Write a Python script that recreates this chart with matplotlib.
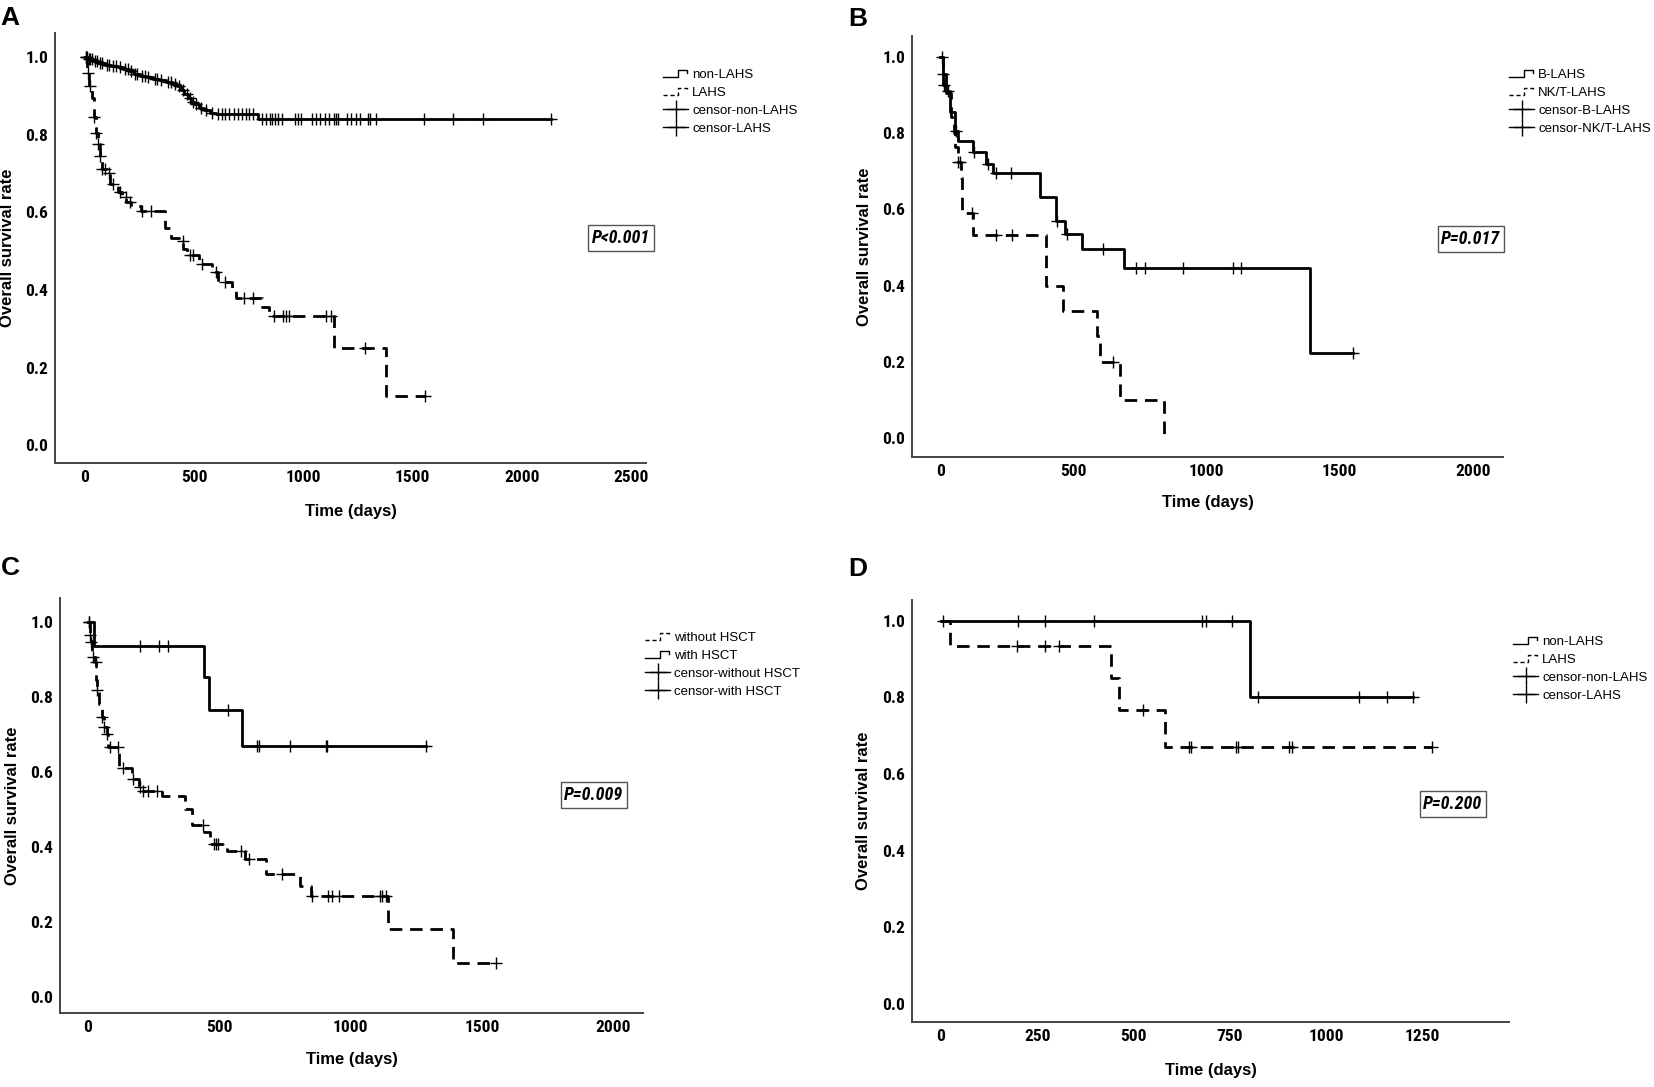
import numpy as np
import matplotlib
matplotlib.use('Agg')
import matplotlib.pyplot as plt
from matplotlib.lines import Line2D
from matplotlib import font_manager
from matplotlib.font_manager import FontProperties

# ---- panel A: non-LAHS vs LAHS ----
a_non_times = [15, 35, 60, 90, 120, 150, 175, 200, 225, 250, 280, 310, 340, 370, 400, 420,
               440, 455, 470, 485, 500, 520, 545, 570, 600, 790]
a_non_surv = [0.995, 0.99, 0.985, 0.98, 0.978, 0.975, 0.97, 0.963, 0.957, 0.952, 0.948, 0.944,
              0.94, 0.935, 0.93, 0.925, 0.915, 0.905, 0.895, 0.885, 0.878, 0.87, 0.863, 0.857,
              0.852, 0.84]
a_non_censor = [5, 10, 18, 25, 30, 45, 55, 70, 80, 100, 110, 130, 140, 160, 185, 195, 210, 230,
                240, 260, 275, 290, 320, 330, 350, 380, 395, 410, 430, 450, 465, 480, 495, 510,
                530, 555, 580, 610, 625, 640, 660, 680, 700, 720, 735, 750, 770, 810, 830, 845,
                855, 870, 885, 900, 960, 975, 990, 1040, 1055, 1075, 1100, 1115, 1140, 1150,
                1160, 1200, 1215, 1240, 1260, 1295, 1305, 1330, 1552, 1686, 1822, 2132]
a_lahs_times = [10, 20, 30, 40, 50, 60, 70, 78, 100, 115, 150, 170, 190, 210, 255, 366, 394,
                431, 450, 468, 524, 580, 608, 673, 691, 812, 840, 1138, 1379]
a_lahs_surv = [0.96, 0.925, 0.895, 0.845, 0.805, 0.775, 0.745, 0.712, 0.70, 0.672, 0.652, 0.64,
               0.627, 0.617, 0.603, 0.56, 0.535, 0.525, 0.505, 0.49, 0.466, 0.445, 0.42, 0.40,
               0.38, 0.355, 0.332, 0.25, 0.127]
a_lahs_censor = [3, 12, 22, 40, 52, 62, 70, 80, 92, 110, 128, 160, 188, 205, 262, 300, 448, 480,
                 495, 535, 600, 640, 730, 770, 865, 905, 920, 935, 1105, 1125, 1280, 1556]

# ---- panel B: B-LAHS vs NK/T-LAHS ----
b_b_times = [8, 20, 35, 55, 66, 123, 172, 199, 373, 434, 469, 532, 688, 1388]
b_b_surv = [0.955, 0.91, 0.855, 0.805, 0.78, 0.75, 0.72, 0.695, 0.633, 0.57, 0.535, 0.495,
            0.446, 0.223]
b_b_censor = [8, 29, 59, 127, 178, 209, 266, 438, 475, 610, 735, 768, 911, 1099, 1130, 1550]
b_nk_times = [8, 20, 41, 51, 55, 66, 76, 80, 123, 397, 461, 587, 600, 673, 839]
b_nk_surv = [0.926, 0.905, 0.843, 0.80, 0.764, 0.725, 0.681, 0.59, 0.533, 0.40, 0.333, 0.267,
             0.20, 0.10, 0.0]
b_nk_censor = [5, 12, 66, 72, 117, 209, 270, 649]

# ---- panel C: with / without HSCT ----
c_wo_times = [9, 12, 17, 28, 33, 37, 43, 56, 64, 75, 79, 118, 121, 168, 196, 203, 281, 370,
              398, 444, 467, 530, 600, 677, 809, 848, 1143, 1388]
c_wo_surv = [0.964, 0.947, 0.907, 0.893, 0.844, 0.818, 0.782, 0.747, 0.72, 0.702, 0.667, 0.649,
             0.61, 0.582, 0.56, 0.55, 0.535, 0.5, 0.458, 0.44, 0.409, 0.39, 0.367, 0.327, 0.297,
             0.27, 0.18, 0.09]
c_wo_censor = [6, 10, 14, 20, 30, 37, 56, 64, 75, 85, 115, 135, 172, 198, 210, 228, 262, 440,
               480, 488, 497, 584, 612, 739, 855, 915, 930, 955, 1110, 1120, 1135, 1554]
c_with_times = [25, 441, 463, 587]
c_with_surv = [0.935, 0.853, 0.765, 0.67]
c_with_censor = [6, 199, 273, 307, 534, 646, 651, 770, 905, 910, 1287]

# ---- panel D: non-LAHS vs LAHS (HSCT) ----
d_non_times = [801]
d_non_surv = [0.80]
d_non_censor = [5, 200, 271, 398, 678, 688, 756, 822, 1086, 1157, 1224]
d_lahs_times = [24, 441, 462, 582]
d_lahs_surv = [0.935, 0.85, 0.767, 0.67]
d_lahs_censor = [198, 271, 306, 525, 645, 650, 766, 772, 904, 911, 1274]

y_ticks = [0.0, 0.2, 0.4, 0.6, 0.8, 1.0]

BOLD = ['Liberation Sans', 'DejaVu Sans']


def condensed_font(italic=False):
    # look for a narrow/condensed bold sans face; SPSS ticks use Arial Narrow
    pref = ['liberation sans narrow', 'roboto condensed', 'noto sans', 'open sans']
    found = {}
    for f in font_manager.fontManager.ttflist:
        key = (f.name + ' ' + f.fname).lower()
        if 'narrow' not in key and 'condensed' not in key and f.stretch not in (
                'condensed', 'semi-condensed'):
            continue
        if 'semicondensed' in key.replace('-', '') or 'extracondensed' in key.replace('-', ''):
            continue
        w = f.weight if isinstance(f.weight, int) else {'bold': 700}.get(f.weight, 400)
        if w != 700 or (f.style != 'normal') != italic:
            continue
        for i, p in enumerate(pref):
            if key.startswith(p) or p in key:
                found.setdefault(i, f.fname)
                break
    if found:
        return found[min(found)]
    return None


cond_path = condensed_font()
cond_it_path = condensed_font(italic=True)


def tick_font(size):
    if cond_path:
        return FontProperties(fname=cond_path, size=size)
    return FontProperties(family='Liberation Sans', weight='bold', size=size - 2)


def p_font(size):
    if cond_it_path:
        return FontProperties(fname=cond_it_path, size=size)
    return FontProperties(family='Liberation Sans', weight='bold', style='italic', size=size - 1)


class StepHandler:
    def __init__(self, ls):
        self.ls = ls

    def legend_artist(self, legend, orig_handle, fontsize, handlebox):
        x0, y0 = handlebox.xdescent, handlebox.ydescent
        w, h = handlebox.width, handlebox.height
        xs = [x0, x0 + 0.58 * w, x0 + 0.58 * w, x0 + 0.97 * w, x0 + 0.97 * w]
        ys = [y0 + 0.15 * h, y0 + 0.15 * h, y0 + 0.85 * h, y0 + 0.85 * h, y0 + 0.55 * h]
        line = Line2D(xs, ys, color='black', lw=1.0, linestyle=self.ls)
        line.set_transform(handlebox.get_transform())
        handlebox.add_artist(line)
        return line


def km_path(times, surv, t_end):
    x = np.concatenate([[0], times, [max(t_end, times[-1])]])
    y = np.concatenate([[1.0], surv, [surv[-1]]])
    return x, y


def surv_at(times, surv, t):
    levels = np.concatenate([[1.0], surv])
    return levels[np.searchsorted(times, t, side='right')]


def draw_curve(ax, times, surv, censor, dashed):
    x, y = km_path(times, surv, max(censor))
    kw = dict(color='black', lw=2.0)
    if dashed:
        kw['dashes'] = (4.5, 2.8)
    ax.step(x, y, where='post', **kw)
    cy = [surv_at(times, surv, t) for t in censor]
    ax.plot(censor, cy, ls='none', marker='+', ms=9, mew=1.0, color='black')


fig = plt.figure(figsize=(16.54, 10.87), dpi=100)
W, H = 1654, 1087


def make_axes(l, r, b, t):
    return fig.add_axes([l / W, 1 - b / H, (r - l) / W, (b - t) / H])


def style_axes(ax, xlim, ylim, xticks, xlab_y):
    ax.set_xlim(*xlim)
    ax.set_ylim(*ylim)
    ax.set_xticks(xticks)
    ax.set_yticks(y_ticks)
    ax.set_yticklabels([f'{v:.1f}' for v in y_ticks])
    for s in ['top', 'right']:
        ax.spines[s].set_visible(False)
    for s in ['left', 'bottom']:
        ax.spines[s].set_color('#444444')
        ax.spines[s].set_linewidth(1.4)
    ax.tick_params(length=0, pad=5)
    for lab in ax.get_xticklabels() + ax.get_yticklabels():
        lab.set_fontproperties(tick_font(12.5))
    ax.set_xlabel('Time (days)', family=BOLD, fontweight='bold', fontsize=12)
    ax.set_ylabel('Overall survival rate', family=BOLD, fontweight='bold', fontsize=12)
    ax.xaxis.set_label_coords(0.5, xlab_y)
    ax.xaxis.label.set_va('center')
    ax.yaxis.set_label_coords(-0.081, 0.5)
    ax.yaxis.label.set_va('center')


def add_legend(ax, labels, solid_first, x, y):
    h1 = Line2D([], [], color='black')
    h2 = Line2D([], [], color='black')
    h3 = Line2D([], [], color='black', lw=1.0, marker='+', ms=13, mew=1.0)
    h4 = Line2D([], [], color='black', lw=1.0, marker='+', ms=13, mew=1.0)
    ls1, ls2 = ('-', (0, (3, 2))) if solid_first else ((0, (3, 2)), '-')
    leg = ax.legend([h1, h2, h3, h4], labels, loc='upper left',
                    bbox_to_anchor=(x / W, 1 - y / H), bbox_transform=fig.transFigure,
                    frameon=False, handlelength=1.9, handletextpad=0.3, labelspacing=0.42,
                    borderpad=0, borderaxespad=0,
                    handler_map={h1: StepHandler(ls1), h2: StepHandler(ls2)},
                    prop=dict(family='Liberation Sans', size=9.5))
    return leg


def p_box(text, cx, cy):
    fig.text(cx / W, 1 - cy / H, text, ha='center', va='center', fontproperties=p_font(13),
             bbox=dict(boxstyle='square,pad=0.2', fc='white', ec='#555555', lw=1.0))


# panel A
axA = make_axes(55, 646, 463, 33)
draw_curve(axA, a_non_times, a_non_surv, a_non_censor, False)
draw_curve(axA, a_lahs_times, a_lahs_surv, a_lahs_censor, True)
style_axes(axA, (-137, 2567), (-0.046, 1.062), [0, 500, 1000, 1500, 2000, 2500], -0.112)
add_legend(axA, ['non-LAHS', 'LAHS', 'censor-non-LAHS', 'censor-LAHS'], True, 663, 69)
p_box('P<0.001', 621, 238)

# panel B
axB = make_axes(912, 1503, 457, 36)
draw_curve(axB, b_b_times, b_b_surv, b_b_censor, False)
draw_curve(axB, b_nk_times, b_nk_surv, b_nk_censor, True)
style_axes(axB, (-107, 2113), (-0.05, 1.055), [0, 500, 1000, 1500, 2000], -0.109)
add_legend(axB, ['B-LAHS', 'NK/T-LAHS', 'censor-B-LAHS', 'censor-NK/T-LAHS'], True, 1509, 69)
p_box('P=0.017', 1471, 239)

# panel C
axC = make_axes(60, 643, 1013, 598)
draw_curve(axC, c_with_times, c_with_surv, c_with_censor, False)
draw_curve(axC, c_wo_times, c_wo_surv, c_wo_censor, True)
style_axes(axC, (-105, 2112), (-0.043, 1.064), [0, 500, 1000, 1500, 2000], -0.113)
add_legend(axC, ['without HSCT', 'with HSCT', 'censor-without HSCT', 'censor-with HSCT'],
           False, 645, 632)
p_box('P=0.009', 594, 795)

# panel D
axD = make_axes(912, 1509, 1022, 600)
draw_curve(axD, d_non_times, d_non_surv, d_non_censor, False)
draw_curve(axD, d_lahs_times, d_lahs_surv, d_lahs_censor, True)
style_axes(axD, (-75, 1474), (-0.047, 1.054), [0, 250, 500, 750, 1000, 1250], -0.116)
add_legend(axD, ['non-LAHS', 'LAHS', 'censor-non-LAHS', 'censor-LAHS'], True, 1513, 636)
p_box('P=0.200', 1453, 804)

for letter, x, y in [('A', 0, 6), ('B', 848, 7), ('C', 1, 556), ('D', 848, 557)]:
    fig.text(x / W, 1 - y / H, letter, ha='left', va='top', family=BOLD,
             fontweight='bold', fontsize=19)

fig.savefig('out.png', dpi=100)
